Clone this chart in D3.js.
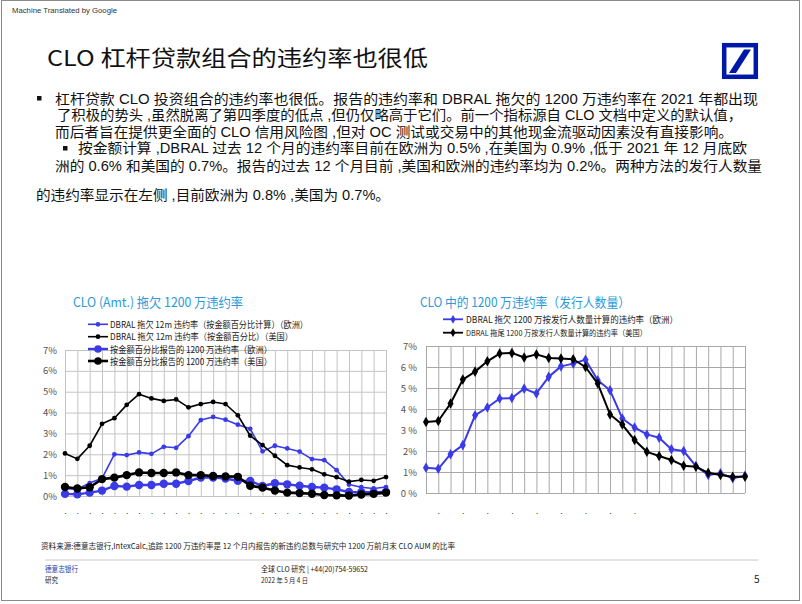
<!DOCTYPE html>
<html><head><meta charset="utf-8">
<script src="https://cdn.jsdelivr.net/npm/d3@7"></script>
<style>body{margin:0;background:#fff}svg{display:block}</style>
</head><body>
<script>
// ---------- data ----------
const idx = d3.range(27);
// Left chart (percent)
const leftEuDbral = [0.35,0.33,0.62,0.85,2.00,1.96,2.09,2.02,2.36,2.31,2.87,3.64,3.79,3.66,3.42,3.22,2.14,2.41,2.28,2.13,1.77,1.72,1.24,0.55,0.42,0.36,0.43];
const leftUsDbral = [2.04,1.78,2.41,3.46,3.73,4.37,4.88,4.68,4.56,4.63,4.25,4.41,4.51,4.41,3.87,2.89,2.44,1.93,1.48,1.37,1.28,1.04,0.90,0.69,0.77,0.73,0.91];
const leftEuRep   = [0.10,0.08,0.16,0.26,0.48,0.45,0.53,0.53,0.59,0.59,0.72,0.88,0.88,0.84,0.73,0.72,0.48,0.61,0.56,0.49,0.43,0.40,0.32,0.19,0.18,0.18,0.20];
const leftUsRep   = [0.43,0.36,0.42,0.81,0.88,1.00,1.13,1.10,1.10,1.13,1.00,1.00,0.96,0.94,0.92,0.49,0.40,0.26,0.16,0.14,0.11,0.05,0.03,0.02,0.07,0.10,0.16];
const leftYLabels = ["0%","1%","2%","3%","4%","5%","6%","7%"];
const leftXLabels = idx.map(() => "•");
const leftLegend = ["DBRAL 拖欠 12m 违约率（按金额百分比计算）（欧洲）","DBRAL 拖欠 12m 违约率（按金额百分比）（美国）","按金额百分比报告的 1200 万违约率（欧洲）","按金额百分比报告的 1200 万违约率（美国）"];
// Right chart (percent)
const rightEu = [1.20,1.15,1.85,2.28,3.70,4.07,4.50,4.52,4.97,4.74,5.53,6.03,6.16,6.35,5.37,4.89,3.55,3.12,2.79,2.63,2.08,2.00,1.28,0.86,0.94,0.70,0.82];
const rightUs = [3.38,3.43,4.26,5.40,5.78,6.27,6.64,6.67,6.45,6.60,6.43,6.40,6.37,6.00,5.21,3.74,3.26,2.52,1.96,1.76,1.57,1.30,1.25,0.96,0.86,0.77,0.77];
const rightYLabels = ["0 %","1%","2%","3 %","4 %","5 %","6 %","7%"];
const rightXTickIdx = [1,3,5,7,9,11,13,15,17];
const rightXLabels = rightXTickIdx.map(() => "•");
const rightLegend = ["DBRAL 拖欠 1200 万按发行人数量计算的违约率（欧洲）","DBRAL 拖尾 1200 万按发行人数量计算的违约率（美国）"];

const BLUE = "#3a3ae6", BLACK = "#000";
const FONT = "'Noto Sans CJK SC', 'Noto Sans', sans-serif";
const FONT_TIGHT = "'Liberation Sans', 'Noto Sans CJK SC', sans-serif";

const svg = d3.select("body").append("svg").attr("width", 802).attr("height", 604);
svg.append("rect").attr("width", 802).attr("height", 604).attr("fill", "#fff");
svg.append("rect").attr("x", 1.5).attr("y", 0.5).attr("width", 798).attr("height", 600)
  .attr("fill", "none").attr("stroke", "#8a8a8a").attr("stroke-width", 1);

function txt(x, y, s, o = {}) {
  const t = svg.append("text").attr("x", x).attr("y", y)
    .attr("font-family", o.family || FONT).attr("font-size", o.size || 12)
    .attr("fill", o.fill || "#000").attr("text-anchor", o.anchor || "start")
    .attr("dominant-baseline", "central").text(s);
  if (o.len) t.attr("textLength", o.len).attr("lengthAdjust", "spacingAndGlyphs");
  return t;
}

// header
txt(12, 10, "Machine Translated by Google", {size: 7.5, fill: "#333", family: "'Liberation Sans', Arial, sans-serif", len: 105});
txt(47, 56, "CLO 杠杆贷款组合的违约率也很低", {size: 22, fill: "#111", len: 381});

// logo
svg.append("rect").attr("x", 724.2).attr("y", 45.2).attr("width", 31.6).attr("height", 31.6)
  .attr("fill", "none").attr("stroke", "#0018A8").attr("stroke-width", 4.5);
svg.append("polygon").attr("points", "729,73 736,73 751,49.5 744,49.5").attr("fill", "#0018A8");

// body text
const bodyLines = [
  {x: 55, y: 98.5, s: "杠杆贷款 CLO 投资组合的违约率也很低。报告的违约率和 DBRAL 拖欠的 1200 万违约率在 2021 年都出现", end: 758},
  {x: 57, y: 115, s: "了积极的势头 ,虽然脱离了第四季度的低点 ,但仍仅略高于它们。前一个指标源自 CLO 文档中定义的默认值，", end: 742},
  {x: 55, y: 131.7, s: "而后者旨在提供更全面的 CLO 信用风险图 ,但对 OC 测试或交易中的其他现金流驱动因素没有直接影响。", end: 733},
  {x: 78, y: 148.3, s: "按金额计算 ,DBRAL 过去 12 个月的违约率目前在欧洲为 0.5% ,在美国为 0.9% ,低于 2021 年 12 月底欧", end: 747},
  {x: 55, y: 165.5, s: "洲的 0.6% 和美国的 0.7%。报告的过去 12 个月目前 ,美国和欧洲的违约率均为 0.2%。两种方法的发行人数量", end: 762},
  {x: 36, y: 195, s: "的违约率显示在左侧 ,目前欧洲为 0.8% ,美国为 0.7%。", end: 390}
];
bodyLines.forEach(l => txt(l.x, l.y, l.s, {size: 14, fill: "#111", len: l.end - l.x, family: FONT_TIGHT}));
svg.append("rect").attr("x", 37).attr("y", 96).attr("width", 4.5).attr("height", 4.5).attr("fill", "#111");
svg.append("rect").attr("x", 63).attr("y", 146).attr("width", 4.5).attr("height", 4.5).attr("fill", "#111");

// ---------- left chart ----------
const xL = d3.scalePoint().domain(idx).range([65, 386]);
const yL = d3.scaleLinear().domain([0, 7]).range([496, 350]);
const gL = svg.append("g");

function grid(g, x, y, x0, x1, y0, y1, color) {
  g.append("g").attr("transform", `translate(0,${y0})`)
    .call(d3.axisBottom(x).tickSize(-(y0 - y1)).tickFormat(""))
    .call(a => a.select(".domain").remove())
    .call(a => a.selectAll("line").attr("stroke", color));
  g.append("g").attr("transform", `translate(${x0},0)`)
    .call(d3.axisLeft(y).tickValues(d3.range(8)).tickSize(-(x1 - x0)).tickFormat(""))
    .call(a => a.select(".domain").remove())
    .call(a => a.selectAll("line").attr("stroke", color));
}
grid(gL, xL, yL, 65, 386, 496, 350, "#c4c4c4");

gL.append("g").attr("transform", "translate(65,0)")
  .call(d3.axisLeft(yL).tickValues(d3.range(8)).tickSize(0).tickPadding(8).tickFormat(d => leftYLabels[d]))
  .call(a => a.select(".domain").remove())
  .call(a => a.selectAll("text").attr("font-family", FONT).attr("font-size", 9.5).attr("fill", "#555"));
gL.append("g").attr("transform", "translate(0,496)")
  .call(d3.axisBottom(xL).tickSize(0).tickPadding(15).tickFormat(d => leftXLabels[d]))
  .call(a => a.select(".domain").remove())
  .call(a => a.selectAll("text").attr("font-family", FONT).attr("font-size", 5).attr("fill", "#333"));

function series(g, x, y, vals, color, lw, marker, msize) {
  g.append("path").datum(vals)
    .attr("d", d3.line().x((d, i) => x(i)).y(d => y(d)))
    .attr("fill", "none").attr("stroke", color).attr("stroke-width", lw).attr("stroke-linejoin", "round");
  g.append("g").selectAll("path").data(vals).join("path")
    .attr("transform", (d, i) => `translate(${x(i)},${y(d)})`)
    .attr("d", d3.symbol().type(marker).size(msize)).attr("fill", color);
}
series(gL, xL, yL, leftEuDbral, BLUE, 1.6, d3.symbolCircle, 18);
series(gL, xL, yL, leftUsDbral, BLACK, 1.6, d3.symbolCircle, 18);
series(gL, xL, yL, leftEuRep, BLUE, 2.4, d3.symbolCircle, 55);
series(gL, xL, yL, leftUsRep, BLACK, 2.6, d3.symbolCircle, 55);

txt(73, 301.5, "CLO (Amt.) 拖欠 1200 万违约率", {size: 13, fill: "#2a9ad8", len: 170});
const legL = [
  {c: BLUE, lw: 1.6, ms: 18, y: 324.3, end: 308},
  {c: BLACK, lw: 1.6, ms: 18, y: 336.7, end: 293},
  {c: BLUE, lw: 2.4, ms: 45, y: 349, end: 272},
  {c: BLACK, lw: 2.6, ms: 45, y: 361, end: 272}
];
legL.forEach((l, i) => {
  gL.append("line").attr("x1", 88).attr("x2", 108).attr("y1", l.y).attr("y2", l.y).attr("stroke", l.c).attr("stroke-width", l.lw);
  gL.append("path").attr("transform", `translate(98,${l.y})`).attr("d", d3.symbol().type(d3.symbolCircle).size(l.ms)).attr("fill", l.c);
  txt(110, l.y, leftLegend[i], {size: 9, fill: "#222", len: l.end - 110});
});

// ---------- right chart ----------
const xR = d3.scalePoint().domain(idx).range([426, 745]);
const yR = d3.scaleLinear().domain([0, 7]).range([493, 346]);
const gR = svg.append("g");
grid(gR, xR, yR, 426, 745, 493, 346, "#a8a8a8");
gR.append("g").attr("transform", "translate(426,0)")
  .call(d3.axisLeft(yR).tickValues(d3.range(8)).tickSize(0).tickPadding(9).tickFormat(d => rightYLabels[d]))
  .call(a => a.select(".domain").remove())
  .call(a => a.selectAll("text").attr("font-family", FONT).attr("font-size", 9.5).attr("fill", "#555"));
gR.append("g").attr("transform", "translate(0,493)")
  .call(d3.axisBottom(xR).tickValues(rightXTickIdx).tickSize(0).tickPadding(18).tickFormat((d, i) => rightXLabels[i]))
  .call(a => a.select(".domain").remove())
  .call(a => a.selectAll("text").attr("font-family", FONT).attr("font-size", 5).attr("fill", "#333"));
series(gR, xR, yR, rightEu, BLUE, 2, d3.symbolDiamond, 32);
series(gR, xR, yR, rightUs, BLACK, 2, d3.symbolDiamond, 32);

txt(420, 301, "CLO 中的 1200 万违约率（发行人数量）", {size: 13, fill: "#2a9ad8", len: 210});
const legR = [{c: BLUE, y: 319.3, end: 678, size: 9}, {c: BLACK, y: 332.7, end: 647, size: 8}];
legR.forEach((l, i) => {
  gR.append("line").attr("x1", 443).attr("x2", 463).attr("y1", l.y).attr("y2", l.y).attr("stroke", l.c).attr("stroke-width", 1.8);
  gR.append("path").attr("transform", `translate(453,${l.y})`).attr("d", d3.symbol().type(d3.symbolDiamond).size(22)).attr("fill", l.c);
  txt(466, l.y, rightLegend[i], {size: l.size, fill: "#222", len: l.end - 466});
});

// ---------- footer ----------
txt(41, 545, "资料来源:德意志银行,IntexCalc,追踪 1200 万违约率是 12 个月内报告的新违约总数与研究中 1200 万前月末 CLO AUM 的比率", {size: 8, fill: "#222", len: 414});
svg.append("line").attr("x1", 45).attr("x2", 758).attr("y1", 560).attr("y2", 560).attr("stroke", "#c8c8c8").attr("stroke-width", 1);
txt(45, 568, "德意志银行", {size: 7.5, fill: "#1a3ca8", len: 33});
txt(45, 579.5, "研究", {size: 7.5, fill: "#222", len: 13});
txt(261, 568, "全球 CLO 研究 | +44(20)754-59652", {size: 7.5, fill: "#222", len: 107});
txt(261, 579.5, "2022 年 5 月 4 日", {size: 7, fill: "#222", len: 47});
txt(754, 578, "5", {size: 10, fill: "#222"});
</script>
</body></html>
